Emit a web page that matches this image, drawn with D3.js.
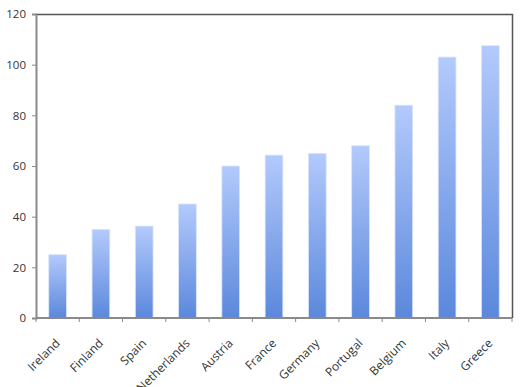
<!DOCTYPE html>
<html>
<head>
<meta charset="utf-8">
<script src="https://cdn.jsdelivr.net/npm/d3@7"></script>
<style>
    body { margin: 0; background: #fff; }
    .axis text { font-family: "Open Sans", "Liberation Sans", sans-serif; font-size: 11.5px; fill: #333; }
    .axis text.cat { font-size: 12px; }
</style>
</head>
<body>
<script>
const countries = ["Ireland", "Finland", "Spain", "Netherlands", "Austria", "France",
    "Germany", "Portugal", "Belgium", "Italy", "Greece"];
const values = [25, 35, 36.3, 45, 60, 64.3, 65, 68, 84, 103, 107.5];
const yTicks = [0, 20, 40, 60, 80, 100, 120];

const margin = { top: 14, right: 18, bottom: 69, left: 36 };
const width = 530 - margin.left - margin.right;
const height = 387 - margin.top - margin.bottom;

const x = d3.scaleBand().domain(countries).range([0, width]).paddingInner(0.59).paddingOuter(0.295);
const y = d3.scaleLinear().domain([0, 120]).range([height, 0]);

const svg = d3.select("body").append("svg")
    .attr("width", 530)
    .attr("height", 387);

const grad = svg.append("defs").append("linearGradient")
    .attr("id", "barFill")
    .attr("x1", 0).attr("y1", 0).attr("x2", 0).attr("y2", 1);
grad.append("stop").attr("offset", "0%").attr("stop-color", "#b3cafc");
grad.append("stop").attr("offset", "100%").attr("stop-color", "#5b88dc");

const g = svg.append("g")
    .attr("transform", "translate(" + margin.left + "," + margin.top + ")");

g.selectAll("rect.bar")
    .data(countries)
    .enter().append("rect")
    .attr("class", "bar")
    .attr("x", d => x(d))
    .attr("width", x.bandwidth())
    .attr("y", (d, i) => y(values[i]))
    .attr("height", (d, i) => height - y(values[i]))
    .attr("fill", "url(#barFill)")
    .attr("stroke", "#dbe5fb")
    .attr("stroke-width", 0.8);

// frame: top and right darker
g.append("path")
    .attr("d", "M0,0.5H" + (width + 0.5) + "V" + height)
    .attr("fill", "none")
    .attr("stroke", "#555")
    .attr("stroke-width", 1.5);

const yAxis = g.append("g")
    .attr("class", "axis")
    .call(d3.axisLeft(y).tickValues(yTicks).tickSize(4).tickPadding(6));
yAxis.select(".domain").attr("stroke", "#8a8a8a").attr("stroke-width", 2);
yAxis.selectAll(".tick line").attr("stroke", "#8a8a8a");

const xTickPos = d3.range(countries.length + 1).map(i => i * width / countries.length);
const xAxis = g.append("g")
    .attr("class", "axis")
    .attr("transform", "translate(0," + height + ")");
xAxis.append("line")
    .attr("x1", 0).attr("x2", width)
    .attr("stroke", "#8a8a8a").attr("stroke-width", 2);
xAxis.selectAll("line.tk")
    .data(xTickPos)
    .enter().append("line")
    .attr("class", "tk")
    .attr("x1", d => d).attr("x2", d => d)
    .attr("y1", 0).attr("y2", 4)
    .attr("stroke", "#8a8a8a");
xAxis.selectAll("text")
    .data(countries)
    .enter().append("text")
    .attr("class", "cat")
    .attr("transform", d => "translate(" + (x(d) + x.bandwidth() / 2) + ",23) rotate(-45)")
    .attr("text-anchor", "end")
    .attr("dy", "0.35em")
    .text(d => d);
</script>
</body>
</html>
